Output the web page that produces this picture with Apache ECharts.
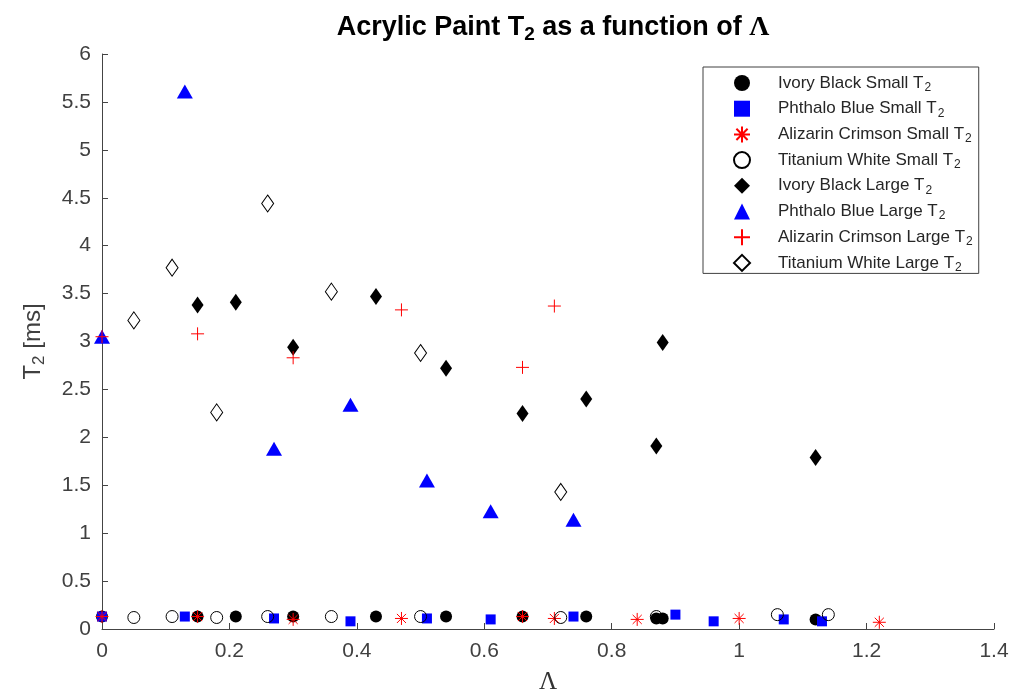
<!DOCTYPE html>
<html><head><meta charset="utf-8">
<script src="https://cdn.jsdelivr.net/npm/echarts@6/dist/echarts.min.js"></script>
<style>html,body{margin:0;padding:0;background:#fff}#c{width:1013px;height:691px}</style>
</head><body><div id="c"></div>
<script>
// ---- data ----
var ivoryBlackSmall = [[0,0.13],[0.15,0.13],[0.21,0.13],[0.30,0.13],[0.43,0.13],[0.54,0.13],[0.66,0.13],[0.76,0.13],[0.87,0.11],[0.88,0.11],[1.12,0.10]];
var phthaloBlueSmall = [[0,0.13],[0.13,0.13],[0.27,0.11],[0.39,0.08],[0.51,0.11],[0.61,0.10],[0.74,0.13],[0.90,0.15],[0.96,0.08],[1.07,0.10],[1.13,0.08]];
var alizarinSmall = [[0,0.13],[0.15,0.13],[0.30,0.10],[0.47,0.11],[0.66,0.13],[0.71,0.11],[0.84,0.10],[1.00,0.11],[1.22,0.07]];
var titaniumSmall = [[0.05,0.12],[0.11,0.13],[0.18,0.12],[0.26,0.13],[0.36,0.13],[0.50,0.13],[0.72,0.12],[0.87,0.13],[1.06,0.15],[1.14,0.15]];
var ivoryBlackLarge = [[0.15,3.38],[0.21,3.41],[0.30,2.94],[0.43,3.47],[0.54,2.72],[0.66,2.25],[0.76,2.40],[0.87,1.91],[0.88,2.99],[1.12,1.79]];
var phthaloBlueLarge = [[0,3.05],[0.13,5.61],[0.27,1.88],[0.39,2.34],[0.51,1.55],[0.61,1.23],[0.74,1.14]];
var alizarinLarge = [[0,3.05],[0.15,3.08],[0.30,2.83],[0.47,3.33],[0.66,2.73],[0.71,3.37]];
var titaniumLarge = [[0.05,3.22],[0.11,3.77],[0.18,2.26],[0.26,4.44],[0.36,3.52],[0.50,2.88],[0.72,1.43]];
var seriesNames = ['Ivory Black Small T2','Phthalo Blue Small T2','Alizarin Crimson Small T2','Titanium White Small T2',
                   'Ivory Black Large T2','Phthalo Blue Large T2','Alizarin Crimson Large T2','Titanium White Large T2'];
var xTicks = {min:0, max:1.4, interval:0.2};
var yTicks = {min:0, max:6, interval:0.5};

var asterisk = 'path://M-1,0L1,0M0,-1L0,1M-0.7,-0.7L0.7,0.7M-0.7,0.7L0.7,-0.7';
var plus = 'path://M-1,0L1,0M0,-1L0,1';
var font = 'Liberation Sans, Arial, Helvetica, sans-serif';
var serif = 'Liberation Serif, DejaVu Serif, serif';

function sc(name, data, symbol, size, style){
  style.opacity = 1;
  return {name:name, type:'scatter', data:data, symbol:symbol, symbolSize:size, itemStyle:style, emphasis:{disabled:true}};
}
var chart = echarts.init(document.getElementById('c'));
chart.setOption({
  animation:false,
  textStyle:{fontFamily:font},
  title:{
    text:'Acrylic Paint T{sub|2} as a function of {lam|Λ}',
    left:548, top:6, textAlign:'center',
    textStyle:{fontSize:27, fontWeight:'bold', color:'#000', fontFamily:font,
      rich:{sub:{fontSize:19, fontWeight:'bold', padding:[14,0,0,0], fontFamily:font, color:'#000'},
            lam:{fontSize:28, fontFamily:serif, color:'#000'}}}
  },
  grid:{left:102, right:19, top:54, bottom:62, outerBoundsMode:'none'},
  legend:{
    orient:'vertical', left:703, top:67,
    padding:[5.5,6,0,30],
    borderColor:'#404040', borderWidth:1, backgroundColor:'#fff',
    itemWidth:16, itemHeight:16, itemGap:4.7,
    data:seriesNames,
    formatter:function(n){return n.replace(/2$/, '{sub|2}');},
    textStyle:{fontSize:17, color:'#262626', fontFamily:font, lineHeight:16, padding:[0,0,0,23],
      rich:{sub:{fontSize:12, color:'#262626', lineHeight:7, padding:[9,0,0,1], fontFamily:font}}}
  },
  xAxis:{
    type:'value', min:xTicks.min, max:xTicks.max, interval:xTicks.interval,
    name:'Λ', nameLocation:'middle', nameGap:41,
    nameTextStyle:{fontSize:25, color:'#333', fontFamily:serif},
    axisLine:{show:true, onZero:false, lineStyle:{color:'#444', width:1}},
    axisTick:{show:true, inside:true, length:6, lineStyle:{color:'#444'}},
    axisLabel:{fontSize:21, color:'#404040', margin:12, formatter:function(v){return String(+v.toFixed(1));}},
    splitLine:{show:false}
  },
  yAxis:{
    type:'value', min:yTicks.min, max:yTicks.max, interval:yTicks.interval,
    name:'T{sub|2} [ms]', nameLocation:'middle', nameGap:54, nameRotate:90,
    nameTextStyle:{fontSize:24, color:'#404040', fontFamily:font,
      rich:{sub:{fontSize:17, color:'#404040', padding:[12,0,0,0], fontFamily:font}}},
    axisLine:{show:true, onZero:false, lineStyle:{color:'#444', width:1}},
    axisTick:{show:true, inside:true, length:6, lineStyle:{color:'#444'}},
    axisLabel:{fontSize:21, color:'#404040', margin:11, formatter:function(v){return String(+v.toFixed(1));}},
    splitLine:{show:false}
  },
  series:[
    sc(seriesNames[0], ivoryBlackSmall, 'circle', 12, {color:'#000'}),
    sc(seriesNames[1], phthaloBlueSmall, 'rect', 10, {color:'#0000ff'}),
    sc(seriesNames[2], alizarinSmall, asterisk, 13, {color:'#ff0000', borderColor:'#ff0000', borderWidth:1}),
    sc(seriesNames[3], titaniumSmall, 'circle', 12, {color:'rgba(255,255,255,0)', borderColor:'#000', borderWidth:1}),
    sc(seriesNames[4], ivoryBlackLarge, 'diamond', [12,17], {color:'#000'}),
    sc(seriesNames[5], phthaloBlueLarge, 'triangle', [16,14], {color:'#0000ff'}),
    sc(seriesNames[6], alizarinLarge, plus, 13, {color:'#ff0000', borderColor:'#ff0000', borderWidth:1}),
    sc(seriesNames[7], titaniumLarge, 'diamond', [12,17], {color:'rgba(255,255,255,0)', borderColor:'#000', borderWidth:1})
  ]
});
</script></body></html>
